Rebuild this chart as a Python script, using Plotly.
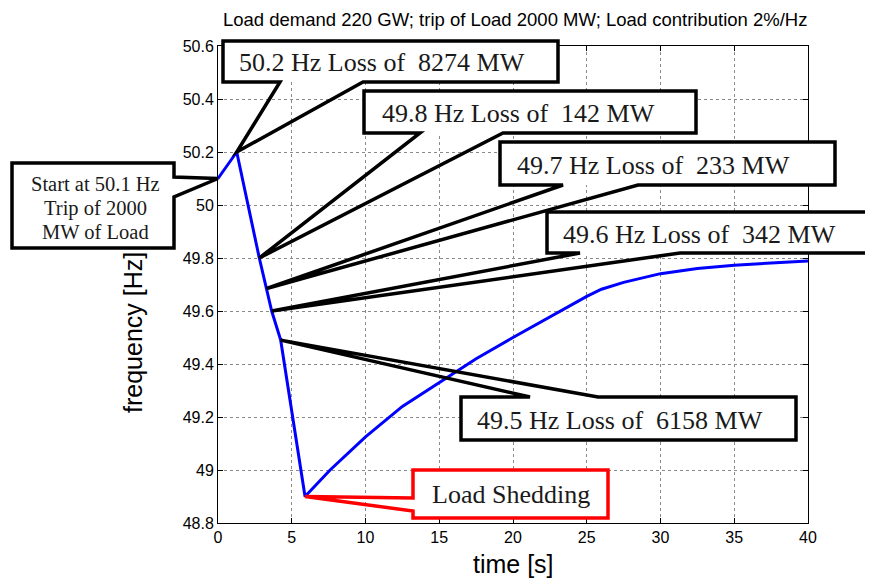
import plotly.graph_objects as go

# ---------------- data ----------------
time_s = [0, 1.27, 2.8, 3.3, 3.64, 4.25, 5.9, 7.6, 10, 12.5, 15, 17.5, 20, 22.5,
          25, 26, 27.5, 30, 32.5, 35, 37.5, 40]
freq_hz = [50.1, 50.2, 49.8, 49.685, 49.6, 49.49, 48.9, 49.0, 49.125, 49.24, 49.33,
           49.42, 49.50, 49.578, 49.655, 49.682, 49.708, 49.741, 49.76, 49.773,
           49.782, 49.789]

x_tickvals = [0, 5, 10, 15, 20, 25, 30, 35, 40]
y_tickvals = [48.8, 49.0, 49.2, 49.4, 49.6, 49.8, 50.0, 50.2, 50.4, 50.6]
y_ticktext = ["48.8", "49", "49.2", "49.4", "49.6", "49.8", "50", "50.2", "50.4", "50.6"]

title_text = "Load demand 220 GW; trip of Load 2000 MW; Load contribution 2%/Hz"
callout_texts = [
    ["Start at 50.1 Hz", "Trip of 2000", "MW of Load"],
    ["50.2 Hz Loss of\u00a0 8274 MW"],
    ["49.8 Hz Loss of\u00a0 142 MW"],
    ["49.7 Hz Loss of\u00a0 233 MW"],
    ["49.6 Hz Loss of\u00a0 342 MW"],
    ["49.5 Hz Loss of\u00a0 6158 MW"],
    ["Load Shedding"],
]
callout_points = [0, 1, 2, 3, 4, 5, 6]   # index of the curve point each callout refers to

# ---------------- layout geometry (window pixels) ----------------
WIN_W, WIN_H = 873, 579
BODY = 8                      # default page margin of the html body
PL, PR, PT, PB = 218, 808, 46, 523   # plot area in window pixels
PW, PH = PR - PL, PB - PT
XR = (0, 40)
YR = (48.8, 50.6)


def px2paper(px, py):
    return (px - PL) / PW, (PB - py) / PH


def data2px(t, f):
    return PL + (t - XR[0]) / (XR[1] - XR[0]) * PW, PT + (YR[1] - f) / (YR[1] - YR[0]) * PH


# box (L, T, R, B) in pixels, gap side, gap range, text centres, font size, colour
callout_style = [
    dict(box=(12, 163, 174, 248), side="right", gap=(177, 197),
         tc=[(95, 184), (95, 208), (95, 232)], fs=20.5, col="black"),
    dict(box=(223, 41, 558, 82), side="bottom", gap=(280, 363),
         tc=[(382, 63)], fs=26, col="black"),
    dict(box=(364, 91, 696, 133), side="bottom", gap=(420, 503),
         tc=[(518, 113)], fs=26, col="black"),
    dict(box=(500, 142, 835, 185), side="bottom", gap=(563, 638),
         tc=[(653, 165)], fs=26, col="black"),
    dict(box=(547, 212, 872, 253), side="bottom", gap=(580, 680),
         tc=[(699, 234)], fs=26, col="black"),
    dict(box=(461, 397, 796, 440), side="top", gap=(530, 598),
         tc=[(620, 420)], fs=26, col="black"),
    dict(box=(413, 470, 608, 518), side="left", gap=(498, 511),
         tc=[(511, 494)], fs=26, col="red"),
]

fig = go.Figure()
fig.add_trace(go.Scatter(x=time_s, y=freq_hz, mode="lines",
                         line=dict(color="#0000ff", width=3), hoverinfo="skip"))

shapes = []
annotations = []


def P(px, py):
    x, y = px2paper(px, py)
    return f"{x:.5f},{y:.5f}"


for texts, idx, st in zip(callout_texts, callout_points, callout_style):
    L, T, R, B = st["box"]
    g1, g2 = st["gap"]
    tx, ty = data2px(time_s[idx], freq_hz[idx])
    x0, y0 = px2paper(L, B)
    x1, y1 = px2paper(R, T)
    shapes.append(dict(type="rect", xref="paper", yref="paper", x0=x0, y0=y0, x1=x1, y1=y1,
                       fillcolor="white", line=dict(width=0), layer="above"))
    if st["side"] == "bottom":
        pts = [(L, T), (R, T), (R, B), (g2, B), (tx, ty), (g1, B), (L, B)]
    elif st["side"] == "top":
        pts = [(L, T), (g1, T), (tx, ty), (g2, T), (R, T), (R, B), (L, B)]
    elif st["side"] == "right":
        pts = [(L, T), (R, T), (R, g1), (tx, ty), (R, g2), (R, B), (L, B)]
    else:
        pts = [(L, T), (R, T), (R, B), (L, B), (L, g2), (tx, ty), (L, g1)]
    path = "M " + " L ".join(P(a, b) for a, b in pts) + " Z"
    shapes.append(dict(type="path", xref="paper", yref="paper", path=path,
                       line=dict(color=st["col"], width=3.5), layer="above"))
    for txt, (cx, cy) in zip(texts, st["tc"]):
        ax, ay = px2paper(cx, cy)
        annotations.append(dict(x=ax, y=ay, xref="paper", yref="paper", text=txt,
                                showarrow=False, xanchor="center", yanchor="middle",
                                font=dict(family="Liberation Serif", size=st["fs"],
                                          color="#1a1a1a")))

# titles
tx_, ty_ = px2paper(515, 19)
annotations.append(dict(x=tx_, y=ty_, xref="paper", yref="paper", text=title_text,
                        showarrow=False, xanchor="center", yanchor="middle",
                        font=dict(family="Liberation Sans", size=18.5, color="black")))
ax_, ay_ = px2paper(513, 564)
annotations.append(dict(x=ax_, y=ay_, xref="paper", yref="paper", text="time [s]",
                        showarrow=False, xanchor="center", yanchor="middle",
                        font=dict(family="Liberation Sans", size=25, color="black")))
yx_, yy_ = px2paper(133, 333)
annotations.append(dict(x=yx_, y=yy_, xref="paper", yref="paper", text="frequency [Hz]",
                        showarrow=False, xanchor="center", yanchor="middle", textangle=-90,
                        font=dict(family="Liberation Sans", size=25, color="black")))

axis_common = dict(showline=True, linecolor="black", linewidth=1, mirror="allticks",
                   ticks="inside", ticklen=5, tickcolor="black",
                   showgrid=True, gridcolor="#8a8a8a", griddash="dot", gridwidth=1,
                   zeroline=False,
                   tickfont=dict(family="Liberation Sans", size=16, color="black"))

fig.update_layout(
    width=WIN_W - BODY, height=WIN_H - BODY,
    margin=dict(l=PL - BODY, r=WIN_W - PR, t=PT - BODY, b=WIN_H - PB),
    paper_bgcolor="white", plot_bgcolor="white",
    showlegend=False,
    xaxis=dict(range=list(XR), tickvals=x_tickvals, **axis_common),
    yaxis=dict(range=list(YR), tickvals=y_tickvals, ticktext=y_ticktext, **axis_common),
    shapes=shapes,
    annotations=annotations,
)

fig.write_html("out.html")
